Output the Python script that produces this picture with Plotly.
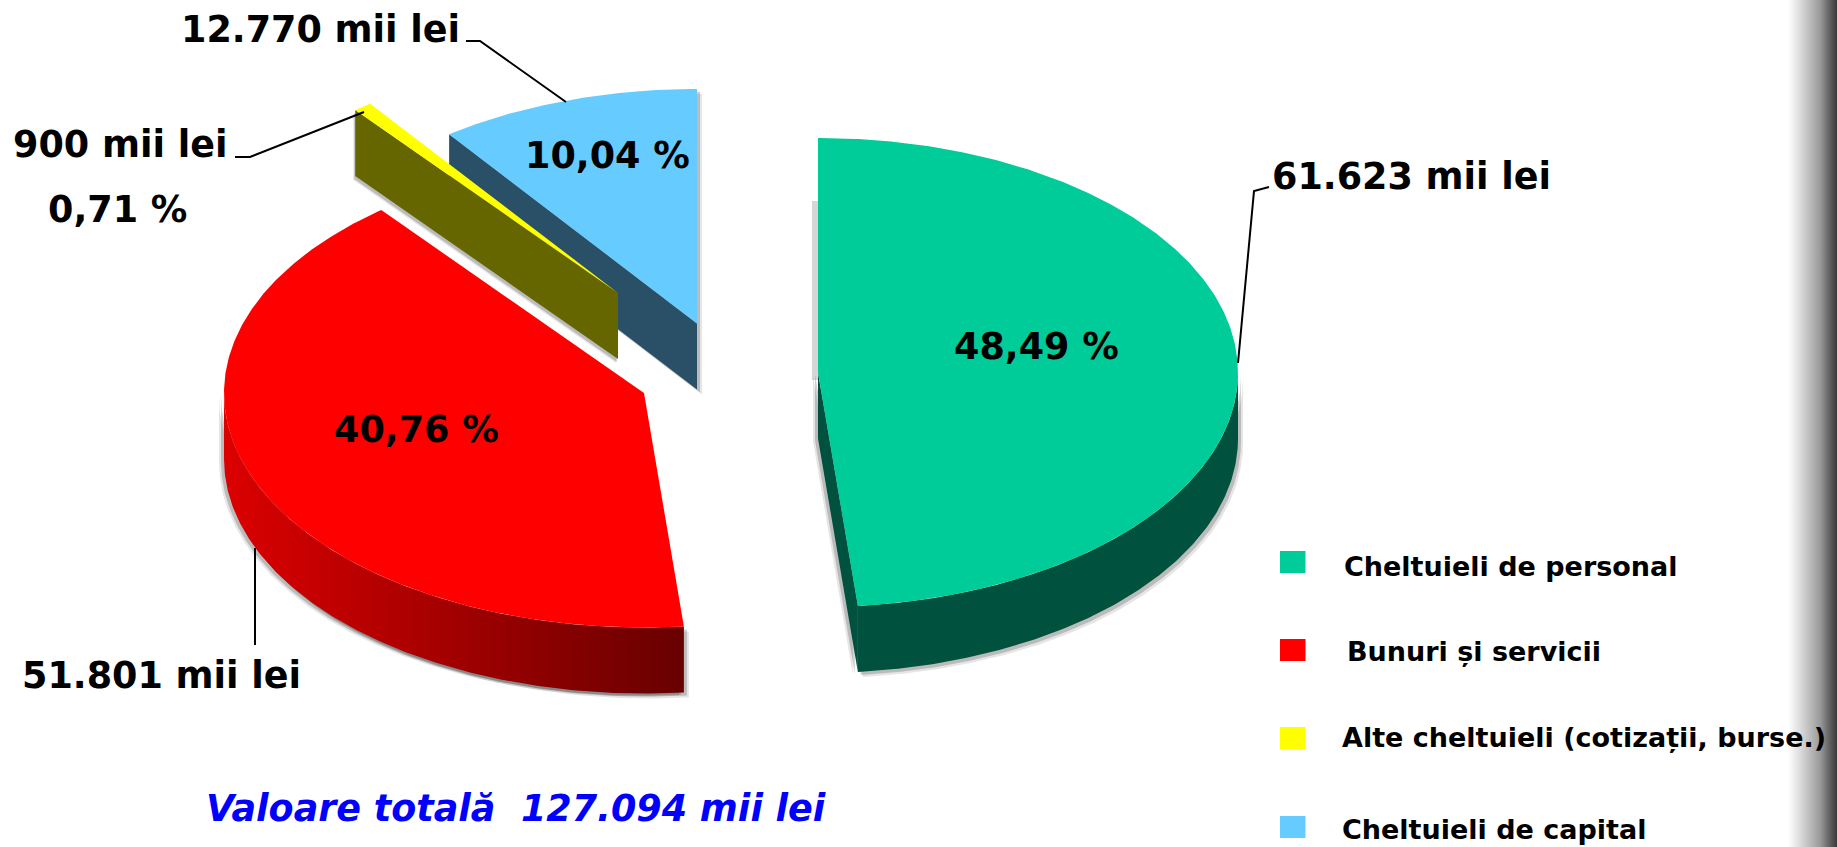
import numpy as np
import plotly.graph_objects as go

CATEGORIES = ["Cheltuieli de personal", "Bunuri și servicii", "Alte cheltuieli (cotizații, burse.)", "Cheltuieli de capital"]
VALUES = [61623, 51801, 900, 12770]
VALUE_LABELS = ["61.623 mii lei", "51.801 mii lei", "900 mii lei", "12.770 mii lei"]
PERCENT_LABELS = ["48,49 %", "40,76 %", "0,71 %", "10,04 %"]
TITLE = "Valoare totală  127.094 mii lei"

# styling / layout
W, H = 1837, 847
COLORS = ["#00CC99", "#FF0000", "#FFFF00", "#66CCFF"]
FACE = ["#00513E", None, "#666600", "#2A5068"]
CENTERS = [(818, 372.5), (644, 393), (618, 293), (697, 323.5)]
RX, RY, DEPTH = 420, 234.5, 66
FONT = "DejaVu Sans"

total = sum(VALUES)
edges = np.cumsum([0] + VALUES) / total * 360.0


def rim(c, a0, a1, n=None):
    n = n or max(4, int(abs(a1 - a0) * 2))
    t = np.radians(np.linspace(a0, a1, n))
    return c[0] + RX * np.sin(t), c[1] - RY * np.cos(t)


fig = go.Figure()


def poly(x, y, color=None, grad=None):
    kw = dict(fillgradient=grad) if grad else dict(fillcolor=color)
    fig.add_trace(go.Scatter(x=list(x), y=list(y), mode="lines", fill="toself",
                             line=dict(width=0), hoverinfo="skip", showlegend=False, **kw))


def top_poly(i):
    c = CENTERS[i]
    x, y = rim(c, edges[i], edges[i + 1])
    return np.r_[c[0], x, c[0]], np.r_[c[1], y, c[1]]


def cut_face(i, angle):
    c = CENTERS[i]
    x, y = rim(c, angle, angle, 2)
    return [c[0], x[0], x[0], c[0], c[0]], [c[1], y[0], y[0] + DEPTH, c[1] + DEPTH, c[1]]


def side(i, a0, a1):
    x, y = rim(CENTERS[i], a0, a1)
    return np.r_[x, x[::-1], x[0]], np.r_[y, y[::-1] + DEPTH, y[0]]


def shadow(x, y, offs=((5, 5, 0.10), (3, 3, 0.18))):
    for ox, oy, alpha in offs:
        poly(np.asarray(x) + ox, np.asarray(y) + oy, f"rgba(0,0,0,{alpha})")


LEFT = ((-5, 3, 0.10), (-3, 2, 0.18), (5, 5, 0.10), (3, 3, 0.18))

# blue slice (furthest back)
fx, fy = cut_face(3, edges[3])
tx, ty = top_poly(3)
shadow(fx, fy)
shadow(tx, ty)
poly(fx, fy, FACE[3])
poly(tx, ty, COLORS[3])

# yellow slice
fx, fy = cut_face(2, edges[2])
tx, ty = top_poly(2)
shadow(fx, fy, ((-2, 4, 0.10), (-1, 3, 0.18)))
poly(fx, fy, FACE[2])
poly(tx, ty, COLORS[2])

# red slice
sx, sy = side(1, edges[1], 270)
tx, ty = top_poly(1)
shadow(sx, sy, LEFT)
poly(sx, sy, grad=dict(type="horizontal", colorscale=[[0, "#DC0000"], [1, "#680000"]]))
poly(tx, ty, COLORS[1])

# green slice
fx, fy = cut_face(0, edges[1])
sx, sy = side(0, 90, edges[1])
tx, ty = top_poly(0)
poly([812, 818, 818, 812, 812], [201, 201, 380, 380, 201], "rgba(0,0,0,0.16)")
shadow(fx, fy, LEFT)
shadow(sx, sy)
poly(sx, sy, FACE[0])
poly(fx, fy, FACE[0])
poly(tx, ty, COLORS[0])

# leader lines
LEADERS = [
    ([1269, 1254, 1238], [187, 191, 363]),
    ([255, 255], [548, 645]),
    ([235, 250, 364], [157, 157, 112]),
    ([466, 480, 566], [41, 41, 102]),
]
for lx, ly in LEADERS:
    fig.add_trace(go.Scatter(x=lx, y=ly, mode="lines", line=dict(color="black", width=2),
                             hoverinfo="skip", showlegend=False))

# right-hand shaded strip
poly([1788, 1837, 1837, 1788, 1788], [0, 0, H, H, 0],
     grad=dict(type="horizontal",
               colorscale=[[0, "#FFFFFF"], [0.24, "#DDDDDD"], [0.45, "#BBBBBB"], [0.66, "#999999"], [0.83, "#666666"], [1, "#3A3A3A"]]))


def note(x, y, text, size=36.5, anchor="left", color="#000000", italic=False):
    fig.add_annotation(x=x, y=y, text=text, showarrow=False, xanchor=anchor, yanchor="middle",
                       font=dict(family=FONT, size=size, color=color, weight=700,
                                 style="italic" if italic else "normal"))


VALUE_POS = [(1270, 176), (20, 675), (11, 144), (179, 29)]
PCT_POS = [(952, 346), (332, 429), (46, 209), (523, 155)]
for t, p in zip(VALUE_LABELS, VALUE_POS):
    note(p[0], p[1], t)
for t, p in zip(PERCENT_LABELS, PCT_POS):
    note(p[0], p[1], t)
note(204, 808, TITLE, size=36.5, color="#0000FF", italic=True)

# legend
LEG_Y = [562, 650, 738, 827]
LEG_TX = [1342, 1345, 1340, 1340]
LEG_TY = [566, 651, 737, 829]
for c, yy, tx_, ty_, name in zip(COLORS, LEG_Y, LEG_TX, LEG_TY, CATEGORIES):
    poly([1280, 1305.5, 1305.5, 1280, 1280], [yy - 11, yy - 11, yy + 11, yy + 11, yy - 11], c)
    note(tx_, ty_, name, size=27)

fig.update_layout(
    width=W, height=H, margin=dict(l=0, r=0, t=0, b=0),
    paper_bgcolor="white", plot_bgcolor="white", showlegend=False,
    xaxis=dict(range=[0, W], visible=False, fixedrange=True),
    yaxis=dict(range=[H, 0], visible=False, fixedrange=True),
)
fig.write_html("out.html", config=dict(displayModeBar=False),
               post_script="document.body.style.margin='0';document.body.style.overflow='hidden';")
